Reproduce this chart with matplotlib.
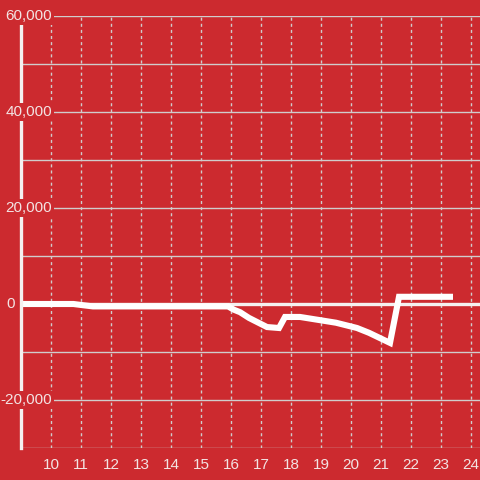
import matplotlib
matplotlib.use("Agg")
import matplotlib.pyplot as plt

# hours of the day and running value
hours = [9.0, 10.75, 11.0, 11.4, 15.9, 16.1, 16.3, 16.6, 17.2, 17.6, 17.8, 18.3,
         18.9, 19.5, 20.2, 20.6, 21.3, 21.6, 23.4]
values = [0, 0, -200, -500, -500, -1200, -1700, -2900, -4800, -5000, -2700, -2700,
          -3300, -3900, -5000, -6000, -8100, 1500, 1500]

x_ticks = list(range(10, 25))
y_ticks = [-20000, 0, 20000, 40000, 60000]
y_grid = list(range(-30000, 60001, 10000))

bg = "#cc2a2f"
txt = "#f3e3e3"
grid = "#d0cccc"

plt.rcParams["font.family"] = ["Liberation Sans", "DejaVu Sans"]

fig = plt.figure(figsize=(4.8, 4.8), dpi=100, facecolor=bg)
ax = fig.add_axes([21 / 480, 32 / 480, 459 / 480, 432 / 480], facecolor=bg)

ax.set_xlim(9, 9 + 459 / 30)
ax.set_ylim(-30000, 60000)

# grid
for g in y_grid:
    ax.axhline(g, color=grid, lw=1.0, zorder=1)
for t in x_ticks:
    ax.axvline(t, color=grid, lw=1.0, ls=(0, (2.2, 2.2)), zorder=1)

# zero line
ax.axhline(0, color="#f5f0f0", lw=2.4, zorder=2)

# data
ax.plot(hours, values, color="white", lw=4.4, solid_capstyle="butt",
        solid_joinstyle="miter", zorder=3)

for s in ["top", "right", "bottom"]:
    ax.spines[s].set_visible(False)
ax.spines["left"].set_color("#f5f0f0")
ax.spines["left"].set_linewidth(2.4)
ax.spines["left"].set_zorder(4)

ax.set_xticks(x_ticks)
ax.set_xticklabels([str(t) for t in x_ticks])
ax.tick_params(axis="x", length=0, pad=7, labelsize=11, labelcolor=txt)
ax.set_yticks([])

# y labels drawn over the axis with background boxes
ytr = ax.get_yaxis_transform()
for v in y_ticks:
    label = f"{v:,}"
    if v == 0:
        ax.text(-0.013, v, label, transform=ytr, ha="right", va="center",
                fontsize=11, color=txt, zorder=6)
    else:
        ax.text(0.067, v, label, transform=ytr, ha="right", va="center",
                fontsize=11, color=txt, zorder=6,
                bbox=dict(boxstyle="square,pad=0.15", fc=bg, ec="none"))

fig.savefig("out.png", dpi=100, facecolor=bg)
